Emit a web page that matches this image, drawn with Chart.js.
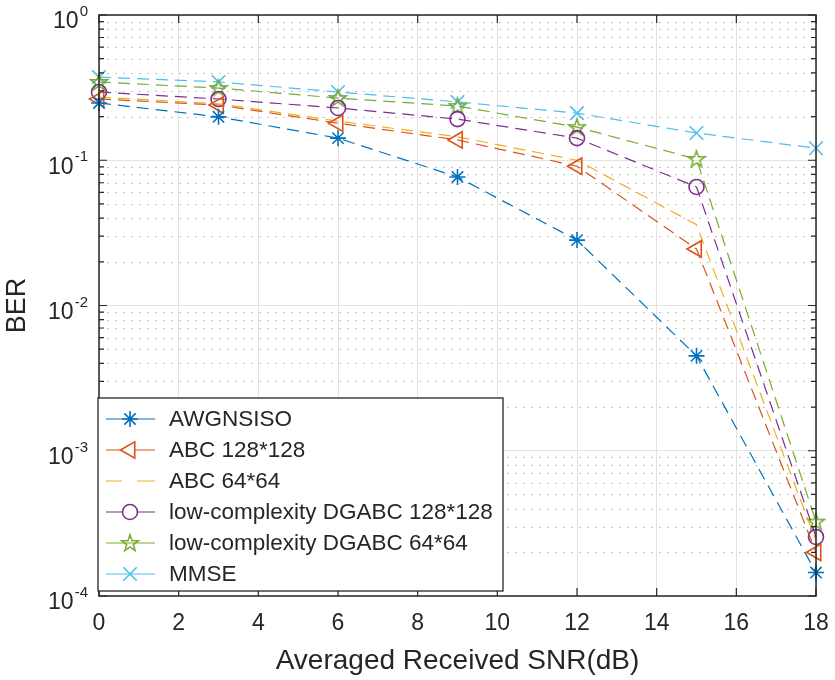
<!DOCTYPE html>
<html>
<head>
<meta charset="utf-8">
<script src="https://cdn.jsdelivr.net/npm/chart.js@4.4.1/dist/chart.umd.min.js"></script>
<style>
  html, body { margin: 0; padding: 0; background: #fff; }
  #wrap { width: 835px; height: 680px; }
</style>
</head>
<body>
<div id="wrap"><canvas id="myChart" width="835" height="680"></canvas></div>
<script>
// BER vs SNR
const snr = [0, 3, 6, 9, 12, 15, 18];
const awgnSiso = [0.248, 0.199, 0.142, 0.0767, 0.0282, 0.0045, 0.000145];
const abc128 = [0.264, 0.24, 0.18, 0.138, 0.091, 0.0245, 0.0002];
const abc64 = [0.272, 0.245, 0.186, 0.145, 0.1, 0.036, 0.00024];
const dgabc128 = [0.295, 0.264, 0.229, 0.192, 0.142, 0.0655, 0.000255];
const dgabc64 = [0.346, 0.314, 0.268, 0.236, 0.169, 0.102, 0.000325];
const mmse = [0.374, 0.346, 0.295, 0.252, 0.211, 0.154, 0.121];

const seriesNames = ['AWGNSISO', 'ABC 128*128', 'ABC 64*64',
  'low-complexity DGABC 128*128', 'low-complexity DGABC 64*64', 'MMSE'];
const xTicks = [0, 2, 4, 6, 8, 10, 12, 14, 16, 18];
const yDecades = [1e-4, 1e-3, 1e-2, 1e-1, 1];
const yExponents = ['-4', '-3', '-2', '-1', '0'];

const textColor = '#262626';
const fontName = '"Liberation Sans", Arial, Helvetica, sans-serif';

// pentagram marker (chart.js has no 5 point star)
function makePentagram(color) {
  const c = document.createElement('canvas');
  c.width = 20; c.height = 20;
  const g = c.getContext('2d');
  g.strokeStyle = color;
  g.lineWidth = 1.5;
  g.beginPath();
  for (let i = 0; i < 10; i++) {
    const r = i % 2 === 0 ? 8.8 : 3.5;
    const a = -Math.PI / 2 + i * Math.PI / 5;
    const px = 10 + r * Math.cos(a), py = 10.5 + r * Math.sin(a);
    if (i === 0) g.moveTo(px, py); else g.lineTo(px, py);
  }
  g.closePath();
  g.stroke();
  return c;
}

const toPoints = vals => snr.map((s, i) => ({ x: s, y: vals[i] }));

function series(label, vals, color, style, radius, rotation) {
  return {
    label: label,
    data: toPoints(vals),
    borderColor: color,
    backgroundColor: 'transparent',
    borderWidth: 1.2,
    borderDash: [12, 7],
    pointStyle: style,
    pointRadius: radius,
    pointRotation: rotation || 0,
    pointBorderWidth: 1.6,
    pointBorderColor: color,
    pointBackgroundColor: 'transparent',
    tension: 0,
    clip: false
  };
}

const datasets = [
  series(seriesNames[0], awgnSiso, '#0072BD', 'star', 8),
  series(seriesNames[1], abc128, '#D95319', 'triangle', 9.5, -90),
  series(seriesNames[2], abc64, '#EDB120', 'circle', 0),
  series(seriesNames[3], dgabc128, '#7E2F8E', 'circle', 7.5),
  series(seriesNames[4], dgabc64, '#77AC30', makePentagram('#77AC30'), 10),
  series(seriesNames[5], mmse, '#4DBEEE', 'crossRot', 9.5)
];

// MATLAB-like box, inward ticks, minor grid, superscript labels, legend
const matlabAxes = {
  id: 'matlabAxes',
  beforeDatasetsDraw(chart) {
    const { ctx, chartArea: a, scales: { y } } = chart;
    ctx.save();
    ctx.strokeStyle = '#c4c4c4';
    ctx.lineWidth = 1;
    ctx.setLineDash([2, 6]);
    yDecades.slice(0, -1).forEach(d => {
      for (let m = 2; m <= 9; m++) {
        const py = Math.round(y.getPixelForValue(d * m)) + 0.5;
        ctx.beginPath();
        ctx.moveTo(a.left, py);
        ctx.lineTo(a.right, py);
        ctx.stroke();
      }
    });
    ctx.restore();
  },
  afterDraw(chart) {
    const { ctx, chartArea: a, scales: { x, y } } = chart;
    ctx.save();
    ctx.strokeStyle = textColor;
    ctx.lineWidth = 1.5;
    ctx.strokeRect(a.left, a.top, a.right - a.left, a.bottom - a.top);

    // ticks pointing inward
    ctx.lineWidth = 1.2;
    ctx.beginPath();
    xTicks.forEach(t => {
      const px = x.getPixelForValue(t);
      ctx.moveTo(px, a.bottom); ctx.lineTo(px, a.bottom - 8);
      ctx.moveTo(px, a.top); ctx.lineTo(px, a.top + 8);
    });
    yDecades.forEach((d, k) => {
      const py = y.getPixelForValue(d);
      ctx.moveTo(a.left, py); ctx.lineTo(a.left + 8, py);
      ctx.moveTo(a.right, py); ctx.lineTo(a.right - 8, py);
      if (k < yDecades.length - 1) {
        for (let m = 2; m <= 9; m++) {
          const pm = y.getPixelForValue(d * m);
          ctx.moveTo(a.left, pm); ctx.lineTo(a.left + 5, pm);
          ctx.moveTo(a.right, pm); ctx.lineTo(a.right - 5, pm);
        }
      }
    });
    ctx.stroke();

    // y tick labels 10^k
    ctx.fillStyle = textColor;
    ctx.textBaseline = 'middle';
    ctx.textAlign = 'right';
    yDecades.forEach((d, k) => {
      const py = y.getPixelForValue(d);
      ctx.font = '15px ' + fontName;
      const ew = ctx.measureText(yExponents[k]).width;
      ctx.fillText(yExponents[k], 88, py - 3);
      ctx.font = '23px ' + fontName;
      ctx.fillText('10', 88 - ew - 1, py + 7);
    });

    // legend
    const lx = 98, ly = 398, lw = 405, lh = 193;
    ctx.fillStyle = '#fff';
    ctx.fillRect(lx, ly, lw, lh);
    ctx.strokeStyle = textColor;
    ctx.lineWidth = 1.3;
    ctx.strokeRect(lx, ly, lw, lh);
    chart.data.datasets.forEach((ds, i) => {
      const ry = 419 + i * 31;
      ctx.strokeStyle = ds.borderColor;
      ctx.lineWidth = 1.2;
      ctx.beginPath();
      if (ds.pointRadius === 0) {
        ctx.moveTo(106, ry); ctx.lineTo(122, ry);
        ctx.moveTo(137, ry); ctx.lineTo(155, ry);
      } else {
        ctx.moveTo(106, ry); ctx.lineTo(155, ry);
      }
      ctx.stroke();
      if (ds.pointRadius > 0) {
        ctx.fillStyle = '#fff';
        ctx.strokeStyle = ds.borderColor;
        ctx.lineWidth = ds.pointBorderWidth;
        Chart.helpers.drawPoint(ctx, {
          pointStyle: ds.pointStyle,
          radius: ds.pointRadius,
          rotation: ds.pointRotation,
          borderWidth: ds.pointBorderWidth
        }, 130, ry);
      }
      ctx.fillStyle = textColor;
      ctx.textAlign = 'left';
      ctx.font = '22.5px ' + fontName;
      ctx.fillText(ds.label, 169, ry + 1);
    });
    ctx.restore();
  }
};

const ctx = document.getElementById('myChart').getContext('2d');
new Chart(ctx, {
  type: 'line',
  data: { datasets: datasets },
  options: {
    responsive: false,
    animation: false,
    devicePixelRatio: 1,
    layout: { padding: { left: 0, top: 15, right: 19, bottom: 0 } },
    plugins: { legend: { display: false }, tooltip: { enabled: false } },
    scales: {
      x: {
        type: 'linear',
        min: 0,
        max: 18,
        afterBuildTicks: s => { s.ticks = xTicks.map(v => ({ value: v })); },
        afterFit: s => { s.height = 84; s.paddingLeft = 0; s.paddingRight = 0; },
        ticks: {
          color: textColor,
          font: { family: fontName, size: 23 },
          padding: 14,
          maxRotation: 0,
          autoSkip: false
        },
        grid: { color: '#e3e3e3', lineWidth: 1, drawTicks: false },
        border: { display: false },
        title: {
          display: true,
          text: 'Averaged Received SNR(dB)',
          color: textColor,
          font: { family: fontName, size: 28 },
          padding: { top: 0, bottom: 2 }
        }
      },
      y: {
        type: 'logarithmic',
        min: 1e-4,
        max: 1,
        afterBuildTicks: s => { s.ticks = yDecades.map(v => ({ value: v })); },
        afterFit: s => { s.width = 99; s.paddingTop = 0; s.paddingBottom = 0; },
        ticks: { display: false },
        grid: { color: '#e3e3e3', lineWidth: 1, drawTicks: false },
        border: { display: false },
        title: {
          display: true,
          text: 'BER',
          color: textColor,
          font: { family: fontName, size: 27 },
          padding: { top: 1, bottom: 0 }
        }
      }
    }
  },
  plugins: [matlabAxes]
});
</script>
</body>
</html>
